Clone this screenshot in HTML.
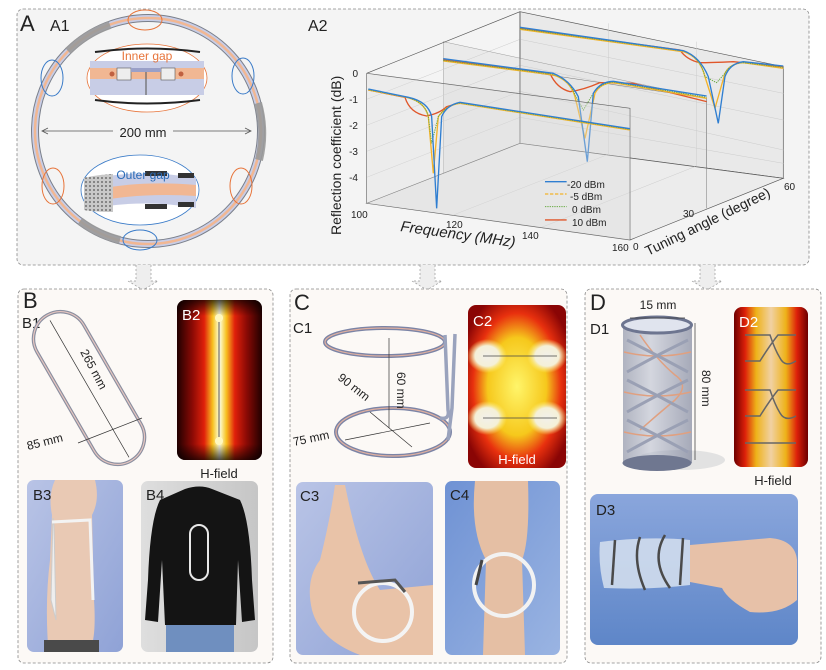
<!DOCTYPE html>
<html><head><meta charset="utf-8"><style>
html,body{margin:0;padding:0;background:#fff;}
svg{display:block;font-family:"Liberation Sans",Arial,sans-serif;}
</style></head><body>
<svg width="826" height="670" viewBox="0 0 826 670" xmlns="http://www.w3.org/2000/svg">
<defs>
<linearGradient id="b2g" x1="0" x2="1" y1="0" y2="0">
<stop offset="0" stop-color="#200000"/><stop offset="0.18" stop-color="#8a0a05"/><stop offset="0.32" stop-color="#e0200a"/><stop offset="0.42" stop-color="#f7c020"/><stop offset="0.48" stop-color="#fbf2b0"/><stop offset="0.5" stop-color="#f4f0e6"/><stop offset="0.52" stop-color="#fbf2b0"/><stop offset="0.58" stop-color="#f7c020"/><stop offset="0.68" stop-color="#e0200a"/><stop offset="0.82" stop-color="#8a0a05"/><stop offset="1" stop-color="#200000"/></linearGradient>
<linearGradient id="b2v" x1="0" x2="0" y1="0" y2="1">
<stop offset="0" stop-color="#000" stop-opacity="0.7"/><stop offset="0.1" stop-color="#000" stop-opacity="0"/><stop offset="0.9" stop-color="#000" stop-opacity="0"/><stop offset="1" stop-color="#000" stop-opacity="0.7"/></linearGradient>
<radialGradient id="c2g" cx="0.5" cy="0.5" r="0.6">
<stop offset="0" stop-color="#fff56a"/><stop offset="0.5" stop-color="#f6c81c"/><stop offset="0.75" stop-color="#e8300e"/><stop offset="1" stop-color="#8a0505"/></radialGradient>
<radialGradient id="lobe" cx="0.5" cy="0.5" r="0.5">
<stop offset="0" stop-color="#f2f0ea"/><stop offset="0.6" stop-color="#f4f0d8"/><stop offset="1" stop-color="#fff27a" stop-opacity="0"/></radialGradient>
<linearGradient id="d2g" x1="0" x2="1">
<stop offset="0" stop-color="#600000"/><stop offset="0.15" stop-color="#e3260c"/><stop offset="0.3" stop-color="#f7d21e"/><stop offset="0.5" stop-color="#fbf6c0"/><stop offset="0.7" stop-color="#f7d21e"/><stop offset="0.85" stop-color="#e3260c"/><stop offset="1" stop-color="#600000"/></linearGradient>
<linearGradient id="blue1" x1="0" x2="1" y1="0" y2="1"><stop offset="0" stop-color="#b9c4e6"/><stop offset="1" stop-color="#8fa2d6"/></linearGradient>
<linearGradient id="blue2" x1="0" x2="1" y1="0" y2="1"><stop offset="0" stop-color="#6f92d4"/><stop offset="1" stop-color="#9ab4e2"/></linearGradient>
<linearGradient id="blue3" x1="0" x2="0" y1="0" y2="1"><stop offset="0" stop-color="#8aa6dc"/><stop offset="1" stop-color="#5e86c8"/></linearGradient>
<linearGradient id="gray1" x1="0" x2="1"><stop offset="0" stop-color="#dedede"/><stop offset="1" stop-color="#c6c6c6"/></linearGradient>
<linearGradient id="cyl" x1="0" x2="1"><stop offset="0" stop-color="#7d859c"/><stop offset="0.4" stop-color="#b9bfcf"/><stop offset="1" stop-color="#6d7590"/></linearGradient>
<pattern id="dots" width="4" height="4" patternUnits="userSpaceOnUse"><rect width="4" height="4" fill="#c8c8c8"/><circle cx="2" cy="2" r="0.9" fill="#555"/></pattern>
</defs>

<rect x="17" y="9" width="792" height="256" rx="6" fill="#f4f4f4" stroke="#888" stroke-dasharray="3,2" stroke-width="0.8"/>
<g fill="#eeeeee" stroke="#999" stroke-dasharray="2,2" stroke-width="0.7">
<path d="M136,265 L136,281 L128,281 L143,290 L158,281 L151,281 L151,265"/>
<path d="M420,265 L420,281 L412,281 L427,290 L442,281 L435,281 L435,265"/>
<path d="M700,265 L700,281 L692,281 L707,290 L722,281 L715,281 L715,265"/>
</g>
<text x="20" y="31" font-size="22" fill="#222">A</text>
<text x="50" y="31" font-size="16" fill="#222">A1</text>
<text x="308" y="31" font-size="16" fill="#222">A2</text>

<circle cx="148" cy="131" r="113" fill="none" stroke="#7a7f8a" stroke-width="8"/>
<circle cx="148" cy="131" r="113" fill="none" stroke="#c8cde6" stroke-width="6"/>
<circle cx="148" cy="131" r="113" fill="none" stroke="#f1b793" stroke-width="2.5"/>
<g fill="none" stroke="#9a9a9a" stroke-width="8" opacity="0.9">
<path d="M68,51 A113,113 0 0 1 110,25"/>
<path d="M258,103 A113,113 0 0 1 259,160"/>
<path d="M80,221 A113,113 0 0 0 120,240"/>
</g>
<g fill="none" stroke-width="1">
<ellipse cx="145" cy="20" rx="17" ry="10" stroke="#e7743a"/>
<ellipse cx="52" cy="78" rx="11" ry="18" stroke="#3a7bc8"/>
<ellipse cx="243" cy="76" rx="11" ry="18" stroke="#3a7bc8"/>
<ellipse cx="53" cy="186" rx="11" ry="18" stroke="#e7743a"/>
<ellipse cx="241" cy="186" rx="11" ry="18" stroke="#e7743a"/>
<ellipse cx="140" cy="240" rx="17" ry="10" stroke="#3a7bc8"/>
</g>
<ellipse cx="147" cy="78" rx="60" ry="34" fill="#fff" stroke="#e7743a" stroke-width="0.8"/>
<rect x="90" y="61" width="114" height="34" fill="#c8cde6"/>
<rect x="90" y="68" width="114" height="11" fill="#f1b793"/>
<path d="M95,52 Q147,45 200,52" stroke="#222" stroke-width="2" fill="none"/>
<path d="M95,100 Q147,107 200,100" stroke="#222" stroke-width="2" fill="none"/>
<rect x="117" y="68" width="14" height="12" fill="#eee" stroke="#555" stroke-width="0.6"/>
<rect x="161" y="68" width="14" height="12" fill="#eee" stroke="#555" stroke-width="0.6"/>
<rect x="131" y="68" width="30" height="4" fill="#9aa0c8"/>
<line x1="146" y1="72" x2="146" y2="95" stroke="#666" stroke-width="1.2"/>
<circle cx="112" cy="74" r="2.5" fill="#c06040"/><circle cx="181" cy="74" r="2.5" fill="#c06040"/>
<text x="147" y="60" font-size="12" fill="#e7743a" text-anchor="middle">Inner gap</text>
<line x1="43" y1="131" x2="250" y2="131" stroke="#555" stroke-width="0.8"/>
<path d="M48,128 L42,131 L48,134 M245,128 L251,131 L245,134" stroke="#555" fill="none" stroke-width="0.8"/>
<rect x="113" y="123" width="60" height="16" fill="#f4f4f4"/>
<text x="143" y="137" font-size="13" fill="#222" text-anchor="middle">200 mm</text>
<ellipse cx="140" cy="190" rx="59" ry="35" fill="#fff" stroke="#3a7bc8" stroke-width="0.8"/>
<path d="M84,180 Q140,168 196,178 L196,208 Q140,198 84,210 Z" fill="#c8cde6"/>
<path d="M110,187 Q150,181 196,185 L196,196 Q150,193 110,199 Z" fill="#f1b793"/>
<path d="M84,178 Q95,175 113,174 L113,212 Q95,212 84,210 Z" fill="url(#dots)"/>
<rect x="145" y="171" width="22" height="5" fill="#333"/><rect x="145" y="204" width="22" height="5" fill="#333"/>
<rect x="178" y="173" width="16" height="5" fill="#333"/><rect x="178" y="202" width="16" height="5" fill="#333"/>
<text x="143" y="179" font-size="12" fill="#2a6cb8" text-anchor="middle">Outer gap</text>

<g transform="translate(300,10) scale(0.3333)" fill="none">
<path d="M660,5 L1450,170 L1450,505 L660,400 Z" fill="#e9e9e9" stroke="#555" stroke-width="2"/>
<path d="M430,95 L1220,265 L1220,595 L430,490 Z" fill="#e6e6e6" stroke="#777" stroke-width="1.5" opacity="0.7"/>
<path d="M200,580 L990,690 L1450,505 L660,400 Z" fill="#ececec" stroke="#555" stroke-width="2"/>
<g stroke="#ccc" stroke-width="1.5">
<line x1="200" y1="268" x2="660" y2="88"/><line x1="200" y1="346" x2="660" y2="166"/><line x1="200" y1="424" x2="660" y2="244"/><line x1="200" y1="502" x2="660" y2="322"/>
<line x1="660" y1="88" x2="1450" y2="250"/><line x1="660" y1="166" x2="1450" y2="330"/><line x1="660" y1="244" x2="1450" y2="420"/><line x1="660" y1="322" x2="1450" y2="460"/>
<line x1="460" y1="615" x2="920" y2="435"/><line x1="725" y1="652" x2="1185" y2="470"/>
<line x1="925" y1="40" x2="925" y2="435"/><line x1="1190" y1="95" x2="1190" y2="470"/>
</g>
<line x1="200" y1="190" x2="660" y2="5" stroke="#555" stroke-width="2"/>
<line x1="660" y1="5" x2="660" y2="400" stroke="#555" stroke-width="2"/>
<path d="M660,55 L1140,120 Q1160,150 1200,158 Q1230,158 1300,155 L1450,170" stroke="#e0562a" stroke-width="4"/>
<path d="M660,58 L1150,125 Q1200,140 1215,200 L1245,295 L1275,190 Q1290,160 1330,158 L1450,175" stroke="#f3b32a" stroke-width="4"/>
<path d="M660,56 L1150,123 Q1200,140 1215,200 L1250,218 L1275,190 Q1290,160 1330,158 L1450,172" stroke="#6aab45" stroke-width="3" stroke-dasharray="4,3"/>
<path d="M660,52 L1150,122 Q1200,140 1225,200 L1255,340 L1275,200 Q1290,160 1330,155 L1450,168" stroke="#2f7ed1" stroke-width="4"/>
<path d="M430,148 L1220,265 L1220,595" stroke="#777" stroke-width="1.5"/>
<path d="M430,150 L750,190 Q770,235 810,245 Q850,240 900,218 L1000,220 L1220,275" stroke="#e0562a" stroke-width="4"/>
<path d="M430,153 L760,195 Q810,210 825,260 L855,385 L885,250 Q900,220 940,218 L1220,265" stroke="#f3b32a" stroke-width="4"/>
<path d="M430,151 L760,193 Q810,210 825,255 L850,300 L880,250 Q900,220 940,216 L1220,262" stroke="#6aab45" stroke-width="3" stroke-dasharray="4,3"/>
<path d="M430,146 L760,190 Q810,210 835,260 L862,455 L880,250 Q900,215 940,214 L1220,258" stroke="#2f7ed1" stroke-width="4"/>
<path d="M200,190 L990,295 L990,690 M200,190 L200,580" stroke="#555" stroke-width="2" />
<path d="M200,190 L990,295 L990,690 L200,580 Z" fill="#dcdcdc" opacity="0.35"/>
<path d="M205,240 L315,262 Q330,310 380,318 Q420,310 440,290 L480,278 L990,358" stroke="#e0562a" stroke-width="4"/>
<path d="M205,240 L320,262 Q375,275 385,320 L400,490 L415,320 Q440,285 480,280 L990,360" stroke="#f3b32a" stroke-width="4"/>
<path d="M205,239 L320,262 Q375,275 385,320 L395,400 L415,320 Q440,285 480,279 L990,358" stroke="#6aab45" stroke-width="3" stroke-dasharray="4,3"/>
<path d="M205,237 L325,262 Q385,275 395,320 L410,595 L425,320 Q440,285 480,277 L990,356" stroke="#2f7ed1" stroke-width="4"/>
<line x1="735" y1="515" x2="800" y2="515" stroke="#2f7ed1" stroke-width="4"/>
<line x1="735" y1="552" x2="800" y2="552" stroke="#f3b32a" stroke-width="4" stroke-dasharray="10,5"/>
<line x1="735" y1="590" x2="800" y2="590" stroke="#6aab45" stroke-width="3" stroke-dasharray="4,3"/>
<line x1="735" y1="630" x2="800" y2="630" stroke="#e0562a" stroke-width="4"/>
</g>
<g font-size="10" fill="#222">
<text x="567" y="188">-20 dBm</text><text x="570" y="200">-5 dBm</text><text x="572" y="213">0 dBm</text><text x="572" y="226">10 dBm</text>
<text x="358" y="77" text-anchor="end">0</text><text x="358" y="103" text-anchor="end">-1</text><text x="358" y="129" text-anchor="end">-2</text><text x="358" y="155" text-anchor="end">-3</text><text x="358" y="181" text-anchor="end">-4</text>
<text x="351" y="218">100</text><text x="446" y="228">120</text><text x="522" y="239">140</text><text x="612" y="251">160</text>
<text x="633" y="250">0</text><text x="683" y="217">30</text><text x="784" y="190">60</text>
</g>
<text transform="translate(341,235) rotate(-90)" font-size="14" fill="#222">Reflection coefficient (dB)</text>
<text transform="translate(400,231) rotate(8)" font-size="15" font-style="italic" fill="#222">Frequency (MHz)</text>
<text transform="translate(648,256) rotate(-26)" font-size="14" fill="#222">Tuning angle (degree)</text>

<rect x="18" y="289" width="255" height="374" rx="6" fill="#fcf9f6" stroke="#888" stroke-dasharray="3,2" stroke-width="0.8"/>
<text x="23" y="308" font-size="22" fill="#222">B</text>
<text x="22" y="328" font-size="15" fill="#222">B1</text>
<g transform="translate(89,388) rotate(60)">
<rect x="-84" y="-27" width="168" height="54" rx="27" fill="none" stroke="#8a8fa0" stroke-width="3.5"/>
<rect x="-84" y="-27" width="168" height="54" rx="27" fill="none" stroke="#e6c6c0" stroke-width="1.2"/>
<line x1="-78" y1="0" x2="80" y2="0" stroke="#333" stroke-width="0.7"/>
</g>
<line x1="78" y1="443" x2="142" y2="418" stroke="#333" stroke-width="0.7"/>
<text transform="translate(80,352) rotate(62)" font-size="12" fill="#222">265 mm</text>
<text transform="translate(28,450) rotate(-14)" font-size="12" fill="#222">85 mm</text>
<rect x="177" y="300" width="85" height="160" rx="8" fill="url(#b2g)"/>
<rect x="177" y="300" width="85" height="160" rx="8" fill="url(#b2v)"/>
<line x1="219" y1="318" x2="219" y2="441" stroke="#333" stroke-width="0.8"/>
<circle cx="219" cy="318" r="4" fill="#fff8c0"/><circle cx="219" cy="441" r="4" fill="#fff8c0"/>
<text x="182" y="320" font-size="15" fill="#fff">B2</text>
<text x="219" y="478" font-size="13" fill="#222" text-anchor="middle">H-field</text>
<rect x="27" y="480" width="96" height="172" rx="7" fill="url(#blue1)"/>
<path d="M55,480 L95,480 Q100,500 92,515 L94,600 Q96,630 92,645 L48,645 Q45,600 50,560 L52,515 Q48,495 55,480Z" fill="#e9c9b4"/>
<rect x="44" y="640" width="55" height="12" fill="#4a4a4a"/>
<path d="M53,518 L51,600 L56,620 L54,525 Z" fill="#eee" stroke="#ccc"/>
<path d="M52,522 L90,520 L93,600" fill="none" stroke="#f3f3f3" stroke-width="3"/>
<text x="33" y="500" font-size="15" fill="#222">B3</text>
<rect x="141" y="481" width="117" height="171" rx="7" fill="url(#gray1)"/>
<path d="M185,489 Q200,484 212,489 L240,500 Q250,520 252,580 L255,620 L242,622 L238,560 L236,625 L165,625 L162,560 L158,622 L145,620 L148,580 Q150,520 160,500Z" fill="#141414"/>
<rect x="166" y="625" width="68" height="27" fill="#6f8fbf"/>
<rect x="190" y="525" width="18" height="55" rx="9" fill="none" stroke="#e8e8e8" stroke-width="2"/>
<text x="146" y="500" font-size="15" fill="#222">B4</text>

<rect x="290" y="289" width="277" height="374" rx="6" fill="#fcf9f6" stroke="#888" stroke-dasharray="3,2" stroke-width="0.8"/>
<text x="294" y="310" font-size="22" fill="#222">C</text>
<text x="293" y="333" font-size="15" fill="#222">C1</text>
<g fill="none">
<ellipse cx="385" cy="342" rx="60" ry="14" stroke="#7b84a6" stroke-width="4"/>
<ellipse cx="385" cy="342" rx="60" ry="14" stroke="#e0b0a0" stroke-width="1.2"/>
<ellipse cx="393" cy="432" rx="57" ry="24" stroke="#7b84a6" stroke-width="4"/>
<ellipse cx="393" cy="432" rx="57" ry="24" stroke="#e0b0a0" stroke-width="1.2"/>
<path d="M445,335 L448,410 Q450,420 440,418 M455,334 L452,408 L448,440" stroke="#9aa3bd" stroke-width="3.5"/>
</g>
<g stroke="#333" stroke-width="0.7" fill="none">
<line x1="389" y1="338" x2="389" y2="428"/>
<line x1="345" y1="440" x2="430" y2="423"/>
<line x1="370" y1="412" x2="412" y2="447"/>
</g>
<text transform="translate(397,372) rotate(90)" font-size="12" fill="#222">60 mm</text>
<text transform="translate(337,379) rotate(38)" font-size="12" fill="#222">90 mm</text>
<text transform="translate(294,446) rotate(-12)" font-size="12" fill="#222">75 mm</text>
<rect x="468" y="305" width="98" height="163" rx="8" fill="url(#c2g)"/>
<ellipse cx="487" cy="356" rx="20" ry="17" fill="url(#lobe)"/><ellipse cx="547" cy="356" rx="20" ry="17" fill="url(#lobe)"/>
<ellipse cx="487" cy="418" rx="20" ry="17" fill="url(#lobe)"/><ellipse cx="547" cy="418" rx="20" ry="17" fill="url(#lobe)"/>
<line x1="483" y1="356" x2="557" y2="356" stroke="#444" stroke-width="0.8"/>
<line x1="483" y1="418" x2="557" y2="418" stroke="#444" stroke-width="0.8"/>
<text x="473" y="326" font-size="15" fill="#fff">C2</text>
<text x="517" y="464" font-size="13" fill="#fff" text-anchor="middle">H-field</text>
<rect x="296" y="482" width="137" height="173" rx="7" fill="url(#blue1)"/>
<path d="M335,485 L345,485 Q360,560 380,590 L433,585 L433,655 L360,655 Q320,640 312,610 Q305,580 320,560 Q330,520 335,485Z" fill="#e9c3a8"/>
<circle cx="383" cy="612" r="29" fill="none" stroke="#f4f4f4" stroke-width="4"/>
<path d="M358,583 L395,580 L405,592" stroke="#555" stroke-width="3" fill="none"/>
<text x="300" y="501" font-size="15" fill="#222">C3</text>
<rect x="445" y="481" width="115" height="174" rx="7" fill="url(#blue2)"/>
<path d="M475,481 L528,481 Q530,540 522,560 L525,655 L483,655 L486,560 Q470,530 475,481Z" fill="#e5bfa4"/>
<ellipse cx="504" cy="585" rx="30" ry="31" fill="none" stroke="#f2f2f2" stroke-width="4"/>
<path d="M482,560 L476,585" stroke="#444" stroke-width="3"/>
<text x="450" y="500" font-size="15" fill="#222">C4</text>

<rect x="585" y="289" width="236" height="374" rx="6" fill="#fcf9f6" stroke="#888" stroke-dasharray="3,2" stroke-width="0.8"/>
<text x="590" y="310" font-size="22" fill="#222">D</text>
<text x="590" y="334" font-size="15" fill="#222">D1</text>
<text x="658" y="309" font-size="12" fill="#222" text-anchor="middle">15 mm</text>
<ellipse cx="680" cy="460" rx="45" ry="10" fill="#e2e2e2"/>
<rect x="623" y="325" width="69" height="138" fill="url(#cyl)" opacity="0.6"/>
<ellipse cx="657" cy="463" rx="34.5" ry="8" fill="#6f7790"/>
<ellipse cx="657" cy="325" rx="34.5" ry="8" fill="#e0e4ee" stroke="#6d7590" stroke-width="3"/>
<g fill="none" stroke="#e0a080" stroke-width="1.5">
<path d="M624,352 Q657,360 691,352"/><path d="M624,392 Q657,400 691,392"/><path d="M624,432 Q657,440 691,432"/>
<path d="M640,335 Q657,360 675,375 Q690,385 675,400 Q657,415 640,430"/>
</g>
<g fill="none" stroke="#9aa0b4" stroke-width="3">
<path d="M627,340 Q657,355 688,372 M688,340 Q657,355 627,372"/>
<path d="M627,380 Q657,395 688,412 M688,380 Q657,395 627,412"/>
<path d="M627,420 Q657,435 688,452 M688,420 Q657,435 627,452"/>
</g>
<line x1="695" y1="323" x2="695" y2="460" stroke="#333" stroke-width="0.7"/>
<line x1="630" y1="318" x2="685" y2="318" stroke="#333" stroke-width="0.7"/>
<text transform="translate(702,370) rotate(90)" font-size="12" fill="#222">80 mm</text>
<rect x="734" y="307" width="74" height="160" rx="8" fill="url(#d2g)"/>
<rect x="734" y="307" width="74" height="160" rx="8" fill="#b00" opacity="0.15"/>
<g fill="none" stroke="#666" stroke-width="1.5">
<path d="M745,335 L770,335 Q775,350 780,358 Q785,368 796,361 M745,361 L760,361 Q770,345 778,335 L796,335"/>
<path d="M745,390 L770,390 Q775,405 780,413 Q785,422 796,416 M745,416 L760,416 Q770,400 778,390 L796,390"/>
<line x1="745" y1="443" x2="796" y2="443"/>
</g>
<text x="739" y="327" font-size="15" fill="#fff">D2</text>
<text x="773" y="485" font-size="13" fill="#222" text-anchor="middle">H-field</text>
<rect x="590" y="494" width="208" height="151" rx="8" fill="url(#blue3)"/>
<path d="M690,545 L770,538 Q795,540 797,560 L797,600 Q780,615 750,612 Q728,600 722,588 L690,582Z" fill="#e7c1a8"/>
<path d="M600,542 Q650,536 690,540 L690,585 Q650,590 604,588 Q598,565 600,542Z" fill="#d6e0ef" opacity="0.85"/>
<g fill="none" stroke="#4a4a4a" stroke-width="2.5">
<path d="M615,540 L612,585"/><path d="M640,537 Q632,560 645,590"/><path d="M665,535 Q650,560 670,588"/><path d="M683,538 L680,585"/>
</g>
<text x="596" y="515" font-size="15" fill="#222">D3</text>
</svg>
</body></html>
